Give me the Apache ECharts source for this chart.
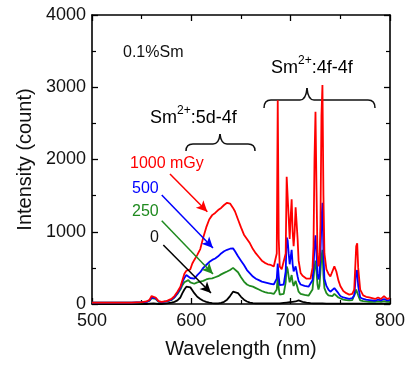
<!DOCTYPE html>
<html><head><meta charset="utf-8">
<script src="https://cdn.jsdelivr.net/npm/echarts@6/dist/echarts.min.js"></script>
<style>html,body{margin:0;padding:0;background:#fff}#c{width:408px;height:365px}</style>
</head><body><div id="c"></div>
<script>
// wavelength (nm)
var wavelength = [
 500,510,520,530,540,550,555,558,560,562,
 564,567,570,575,580,583,586,589,591,593,
 595,597,599,601,603,606,609,612,615,618,
 621,624,627,630,633,636,639,642,644,647,
 650,653,656,659,662,665,668,671,674,677,
 680,683,685,686,687,688,689,691,693,695,
 696,697,698,699,700,701,702,703,704,705,
 706,707,708,710,712,714,716,718,720,722,
 723,724,725,726,727,728,729,730,731,732,
 733,734,736,738,740,742,744,745,746,748,
 750,753,756,759,762,764,765,766,767,768,
 770,773,776,779,782,785,788,791,794,797,
 800];
var dose1000 = [
 20,20,20,20,20,25,35,60,110,130,
 90,40,30,40,70,110,170,240,330,420,
 460,440,480,560,610,680,760,920,1060,1170,
 1230,1260,1300,1330,1370,1400,1390,1330,1280,1170,
 1060,960,900,840,760,700,650,600,570,550,
 540,520,500,700,2820,900,520,480,500,700,
 1760,1740,1200,900,1200,1450,1000,800,1000,1340,
 1350,900,600,430,390,370,350,330,350,500,
 800,2000,2660,1600,700,520,600,1100,2600,3030,
 1500,700,480,420,380,400,520,540,450,330,
 250,180,150,130,140,200,500,800,840,500,
 200,120,100,90,80,70,90,70,110,70,
 80];
var dose500 = [
 20,20,20,20,20,25,30,50,90,110,
 80,35,25,35,60,95,150,220,300,360,
 400,390,360,345,350,400,440,500,540,580,
 610,630,660,700,730,750,765,770,730,660,
 600,540,470,425,380,350,330,310,300,290,
 280,270,260,350,560,380,260,250,270,450,
 920,880,700,550,650,750,550,450,450,520,
 500,380,320,270,260,250,245,240,250,330,
 500,800,950,700,420,340,400,700,1150,1400,
 700,350,250,200,170,180,220,230,200,150,
 110,90,80,70,80,120,280,440,470,250,
 90,70,60,55,50,45,60,50,70,50,
 55];
var dose250 = [
 20,20,20,20,20,22,30,45,80,100,
 70,30,25,35,55,90,140,200,260,300,
 320,330,300,275,280,300,310,320,340,350,
 355,370,385,410,430,450,471,500,500,440,
 370,310,270,250,240,220,200,180,165,155,
 150,140,130,200,380,220,130,120,140,300,
 520,480,380,300,350,400,300,250,260,320,
 300,220,170,140,130,125,120,115,125,200,
 350,500,600,450,270,200,250,450,650,750,
 400,220,150,120,100,110,140,150,120,90,
 70,60,55,50,55,80,150,200,210,120,
 50,40,35,30,30,30,35,30,40,30,
 30];
var dose0 = [
 0,0,0,0,0,0,0,5,10,10,
 5,0,0,10,20,30,50,90,150,200,
 240,250,230,190,150,100,70,45,30,20,
 12,10,10,15,30,60,110,170,190,150,
 100,60,35,20,12,10,8,8,8,8,
 8,8,8,8,10,8,8,10,15,20,
 20,22,25,25,25,30,30,30,32,35,
 40,45,50,40,30,25,20,15,12,10,
 10,10,10,10,10,10,10,10,10,10,
 8,8,6,5,5,5,5,5,5,5,
 5,5,5,5,5,5,5,5,5,5,
 5,5,5,5,5,5,5,5,5,5,
 5];
var xTicks = [500, 600, 700, 800];
var yTicks = [0, 1000, 2000, 3000, 4000];
// arrow endpoints in data units [[x0,y0],[x1,y1]]
var arrow1000 = [[578.5, 1799], [616.1, 1277]];
var arrow500 = [[570.2, 1509], [621.8, 775]];
var arrow250 = [[570.2, 1153], [621.8, 415]];
var arrow0 = [[571.8, 817], [619.8, 152]];

function pairs(v) { return wavelength.map(function (w, i) { return [w, v[i]]; }); }
var FONT = 'Arial, "Liberation Sans", sans-serif';
function mk(color, a) {
  return {
    silent: true, symbol: ['none', 'arrow'], symbolSize: [8, 11],
    label: { show: false }, emphasis: { disabled: true },
    lineStyle: { color: color, width: 1.5, type: 'solid' },
    data: [[{ coord: a[0] }, { coord: a[1] }]]
  };
}
function series(name, v, color, a) {
  return {
    name: name, type: 'line', data: pairs(v), showSymbol: false, symbol: 'none',
    lineStyle: { color: color, width: 1.8 }, itemStyle: { color: color },
    animation: false, xAxisIndex: 0, yAxisIndex: 0, markLine: mk(color, a)
  };
}
// curly brace made of lines and quadratic curves (pixel layout)
function brace(x0, x1, xt, yl, yt, ye) {
  var st = { stroke: '#111', fill: null, lineWidth: 1.5 };
  var r = 7;
  return [
    { type: 'bezierCurve', shape: { x1: x0, y1: ye, cpx1: x0, cpy1: yl, x2: x0 + r, y2: yl }, style: st },
    { type: 'line', shape: { x1: x0 + r, y1: yl, x2: xt - r, y2: yl }, style: st },
    { type: 'bezierCurve', shape: { x1: xt - r, y1: yl, cpx1: xt - 1, cpy1: yl, x2: xt, y2: yt }, style: st },
    { type: 'bezierCurve', shape: { x1: xt, y1: yt, cpx1: xt + 1, cpy1: yl, x2: xt + r, y2: yl }, style: st },
    { type: 'line', shape: { x1: xt + r, y1: yl, x2: x1 - r, y2: yl }, style: st },
    { type: 'bezierCurve', shape: { x1: x1 - r, y1: yl, cpx1: x1, cpy1: yl, x2: x1, y2: ye }, style: st }
  ];
}
var axCommon = {
  axisLine: { show: true, onZero: false, lineStyle: { color: '#000', width: 1.6 } },
  axisTick: { show: true, inside: true, length: 6, lineStyle: { color: '#000', width: 1.3 } },
  minorTick: { show: true, splitNumber: 2, length: 4, lineStyle: { color: '#000', width: 1.2 } },
  splitLine: { show: false }
};
var richSup = {
  a: { fontFamily: FONT, fontSize: 18, color: '#111', lineHeight: 22, verticalAlign: 'bottom' },
  s: { fontFamily: FONT, fontSize: 12, color: '#111', lineHeight: 18, verticalAlign: 'top' }
};
function plain(v) { return String(v); }
var chart = echarts.init(document.getElementById('c'));
chart.setOption({
  animation: false,
  backgroundColor: '#fff',
  grid: { left: 92, right: 18, top: 15, bottom: 61 },
  xAxis: [
    Object.assign({}, axCommon, {
      type: 'value', min: xTicks[0], max: xTicks[xTicks.length - 1], interval: 100, position: 'bottom',
      name: 'Wavelength (nm)', nameLocation: 'middle', nameGap: 35,
      nameTextStyle: { fontFamily: FONT, fontSize: 20, color: '#111' },
      axisLabel: { fontFamily: FONT, fontSize: 18, color: '#111', margin: 8, formatter: plain }
    }),
    Object.assign({}, axCommon, {
      type: 'value', min: xTicks[0], max: xTicks[xTicks.length - 1], interval: 100, position: 'top',
      axisLabel: { show: false }
    })
  ],
  yAxis: [
    Object.assign({}, axCommon, {
      type: 'value', min: yTicks[0], max: yTicks[yTicks.length - 1], interval: 1000, position: 'left',
      name: 'Intensity (count)', nameLocation: 'middle', nameGap: 51,
      nameTextStyle: { fontFamily: FONT, fontSize: 20, color: '#111' },
      axisLabel: { fontFamily: FONT, fontSize: 18, color: '#111', margin: 6, formatter: plain }
    }),
    Object.assign({}, axCommon, {
      type: 'value', min: yTicks[0], max: yTicks[yTicks.length - 1], interval: 1000, position: 'right',
      axisLabel: { show: false }
    })
  ],
  series: [
    series('0', dose0, '#000000', arrow0),
    series('250', dose250, '#1f8a1f', arrow250),
    series('500', dose500, '#0000ff', arrow500),
    series('1000 mGy', dose1000, '#ff0000', arrow1000)
  ],
  graphic: [
    { type: 'text', x: 123, y: 53, style: { text: '0.1%Sm', fontFamily: FONT, fontSize: 16, fill: '#111', align: 'left', verticalAlign: 'middle' } },
    { type: 'text', x: 271, y: 66, style: { text: '{a|Sm}{s|2+}{a|:4f-4f}', align: 'left', verticalAlign: 'middle', rich: richSup } },
    { type: 'text', x: 150, y: 116, style: { text: '{a|Sm}{s|2+}{a|:5d-4f}', align: 'left', verticalAlign: 'middle', rich: richSup } },
    { type: 'text', x: 130, y: 164, style: { text: '1000 mGy', fontFamily: FONT, fontSize: 16, fill: '#ff0000', align: 'left', verticalAlign: 'middle' } },
    { type: 'text', x: 132, y: 189, style: { text: '500', fontFamily: FONT, fontSize: 16, fill: '#0000ff', align: 'left', verticalAlign: 'middle' } },
    { type: 'text', x: 132, y: 212, style: { text: '250', fontFamily: FONT, fontSize: 16, fill: '#1f8a1f', align: 'left', verticalAlign: 'middle' } },
    { type: 'text', x: 150, y: 238, style: { text: '0', fontFamily: FONT, fontSize: 16, fill: '#111', align: 'left', verticalAlign: 'middle' } }
  ].concat(brace(264, 375, 307, 100, 88, 108)).concat(brace(186, 255, 220, 144, 134, 151))
});
</script></body></html>
